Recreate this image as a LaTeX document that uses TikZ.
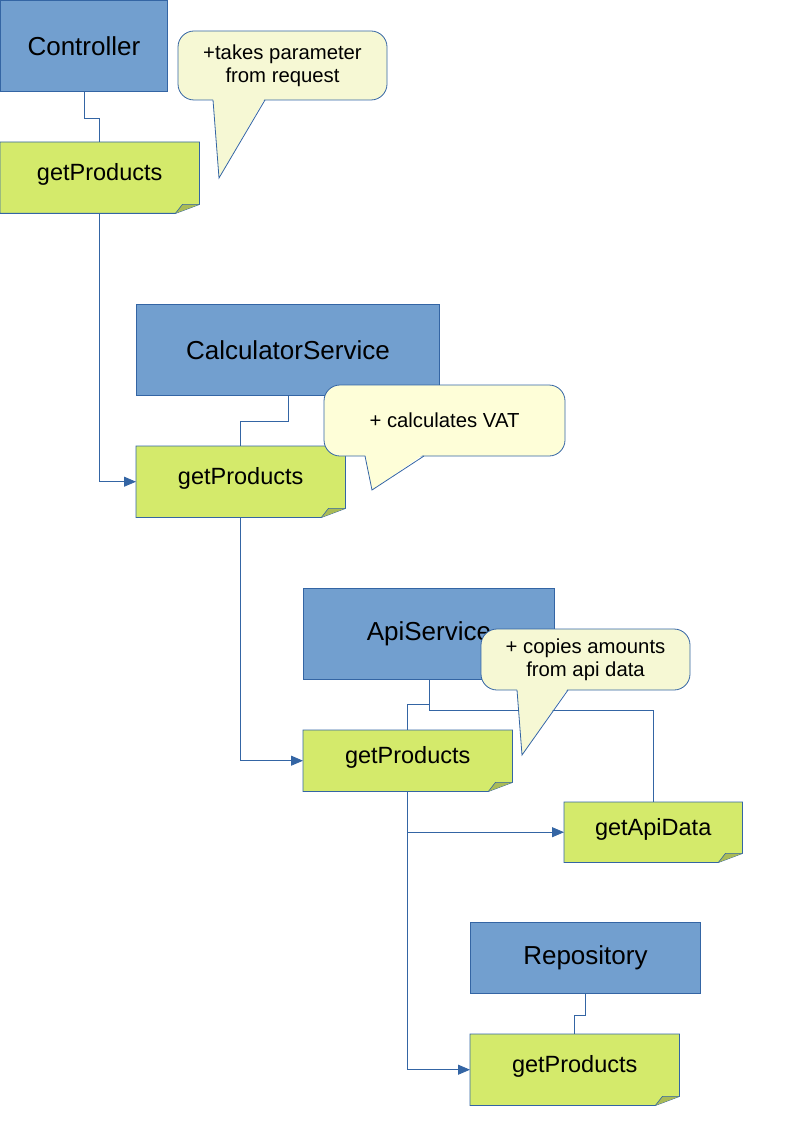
\documentclass[tikz,border=0pt]{standalone}
\usepackage{fontspec}
\setmainfont{Liberation Sans}
\usetikzlibrary{arrows.meta,backgrounds}
\definecolor{hdrfill}{HTML}{729FCF}
\definecolor{edgecol}{HTML}{3465A4}
\definecolor{notefill}{HTML}{D4EA6B}
\definecolor{foldfill}{HTML}{AABB56}
\definecolor{callA}{HTML}{F6F8D4}
\definecolor{callB}{HTML}{FEFED8}
\newcommand\notedeco[1]{%
  \begin{pgfonlayer}{background}
  \filldraw[fill=notefill,draw=edgecol,line width=0.8pt] (#1.north west) -- (#1.north east) -- ([yshift=9pt]#1.south east) -- ([xshift=-24pt]#1.south east) -- (#1.south west) -- cycle;
  \filldraw[fill=foldfill,draw=edgecol,line width=0.6pt] ([xshift=-24pt]#1.south east) -- ([xshift=-17pt,yshift=9pt]#1.south east) -- ([yshift=9pt]#1.south east);
  \end{pgfonlayer}}
\newcommand\mkcallout[9]{% x1,y1,x2,y2,tailL,tailR,tipx,tipy,color
  \filldraw[callbox,fill=#9,rounded corners=16pt] (#1,#2) rectangle (#3,#4);
  \fill[#9] (#5,#4-2) -- (#7,#8) -- (#6,#4-2) -- cycle;
  \draw[callbox] (#5,#4) -- (#7,#8) -- (#6,#4);}
\begin{document}
\begin{tikzpicture}[x=1pt,y=-1pt,
  hdr/.style={draw=edgecol,fill=hdrfill,line width=0.8pt,inner sep=0pt,anchor=north west,font=\fontsize{26}{30}\selectfont},
  note/.style={inner sep=0pt,anchor=north west,font=\fontsize{23.5}{28}\selectfont,text height=17pt,text depth=11pt},
  conn/.style={draw=edgecol,line width=0.8pt},
  arr/.style={conn,-{Triangle[length=12pt,width=10pt]}},
  callbox/.style={draw=edgecol,line width=0.8pt},
  calltext/.style={align=center,font=\fontsize{20.3}{23}\selectfont,inner sep=0pt}
]
\useasboundingbox (0,0) rectangle (794,1123);

% headers
\node[hdr,minimum width=167pt,minimum height=91pt] (ctrl) at (0,0) {Controller};
\node[hdr,minimum width=303pt,minimum height=91pt] (calc) at (136,304) {CalculatorService};
\node[hdr,minimum width=251pt,minimum height=91pt] (api) at (303,588) {ApiService};
\node[hdr,minimum width=230pt,minimum height=71pt] (repo) at (470,922) {Repository};

% notes
\node[note,minimum width=199pt,minimum height=71pt] (gp1) at (0,142) {getProducts};
\node[note,minimum width=209pt,minimum height=71pt] (gp2) at (136,446) {getProducts};
\node[note,minimum width=209pt,minimum height=61pt] (gp3) at (303,730) {getProducts};
\node[note,minimum width=178pt,minimum height=60pt] (gad) at (564,802) {getApiData};
\node[note,minimum width=209pt,minimum height=71pt] (gp4) at (470,1034) {getProducts};
\notedeco{gp1}
\notedeco{gp2}
\notedeco{gp3}
\notedeco{gad}
\notedeco{gp4}

% connectors
\draw[conn] (ctrl.south) -- ++(0,27) -| (gp1.north);
\draw[arr] (gp1.south) |- (gp2.west);
\draw[conn] (calc.south) -- ++(0,26) -| (gp2.north);
\draw[arr] (gp2.south) |- (gp3.west);
\draw[conn] (api.south) -- ++(0,25) -| (gp3.north);
\draw[conn] (api.south) -- ++(0,31) -| (gad.north);
\draw[arr] (gp3.south) |- (gad.west);
\draw[arr] (gp3.south) |- (gp4.west);
\draw[conn] (repo.south) -- ++(0,22) -| (gp4.north);

% callouts
\mkcallout{178}{31}{387}{100}{213}{265}{219}{178}{callA}
\node[calltext] (c1) at (282.5,65.5) {+takes parameter\\from request};
\mkcallout{324}{385}{565}{456}{365}{424}{372}{490}{callB}
\node[calltext] (c2) at (444.5,420.5) {+ calculates VAT};
\mkcallout{481}{629}{690}{690}{517}{568}{522}{755}{callA}
\node[calltext] (c3) at (585.5,659.5) {+ copies amounts\\from api data};
\end{tikzpicture}
\end{document}
